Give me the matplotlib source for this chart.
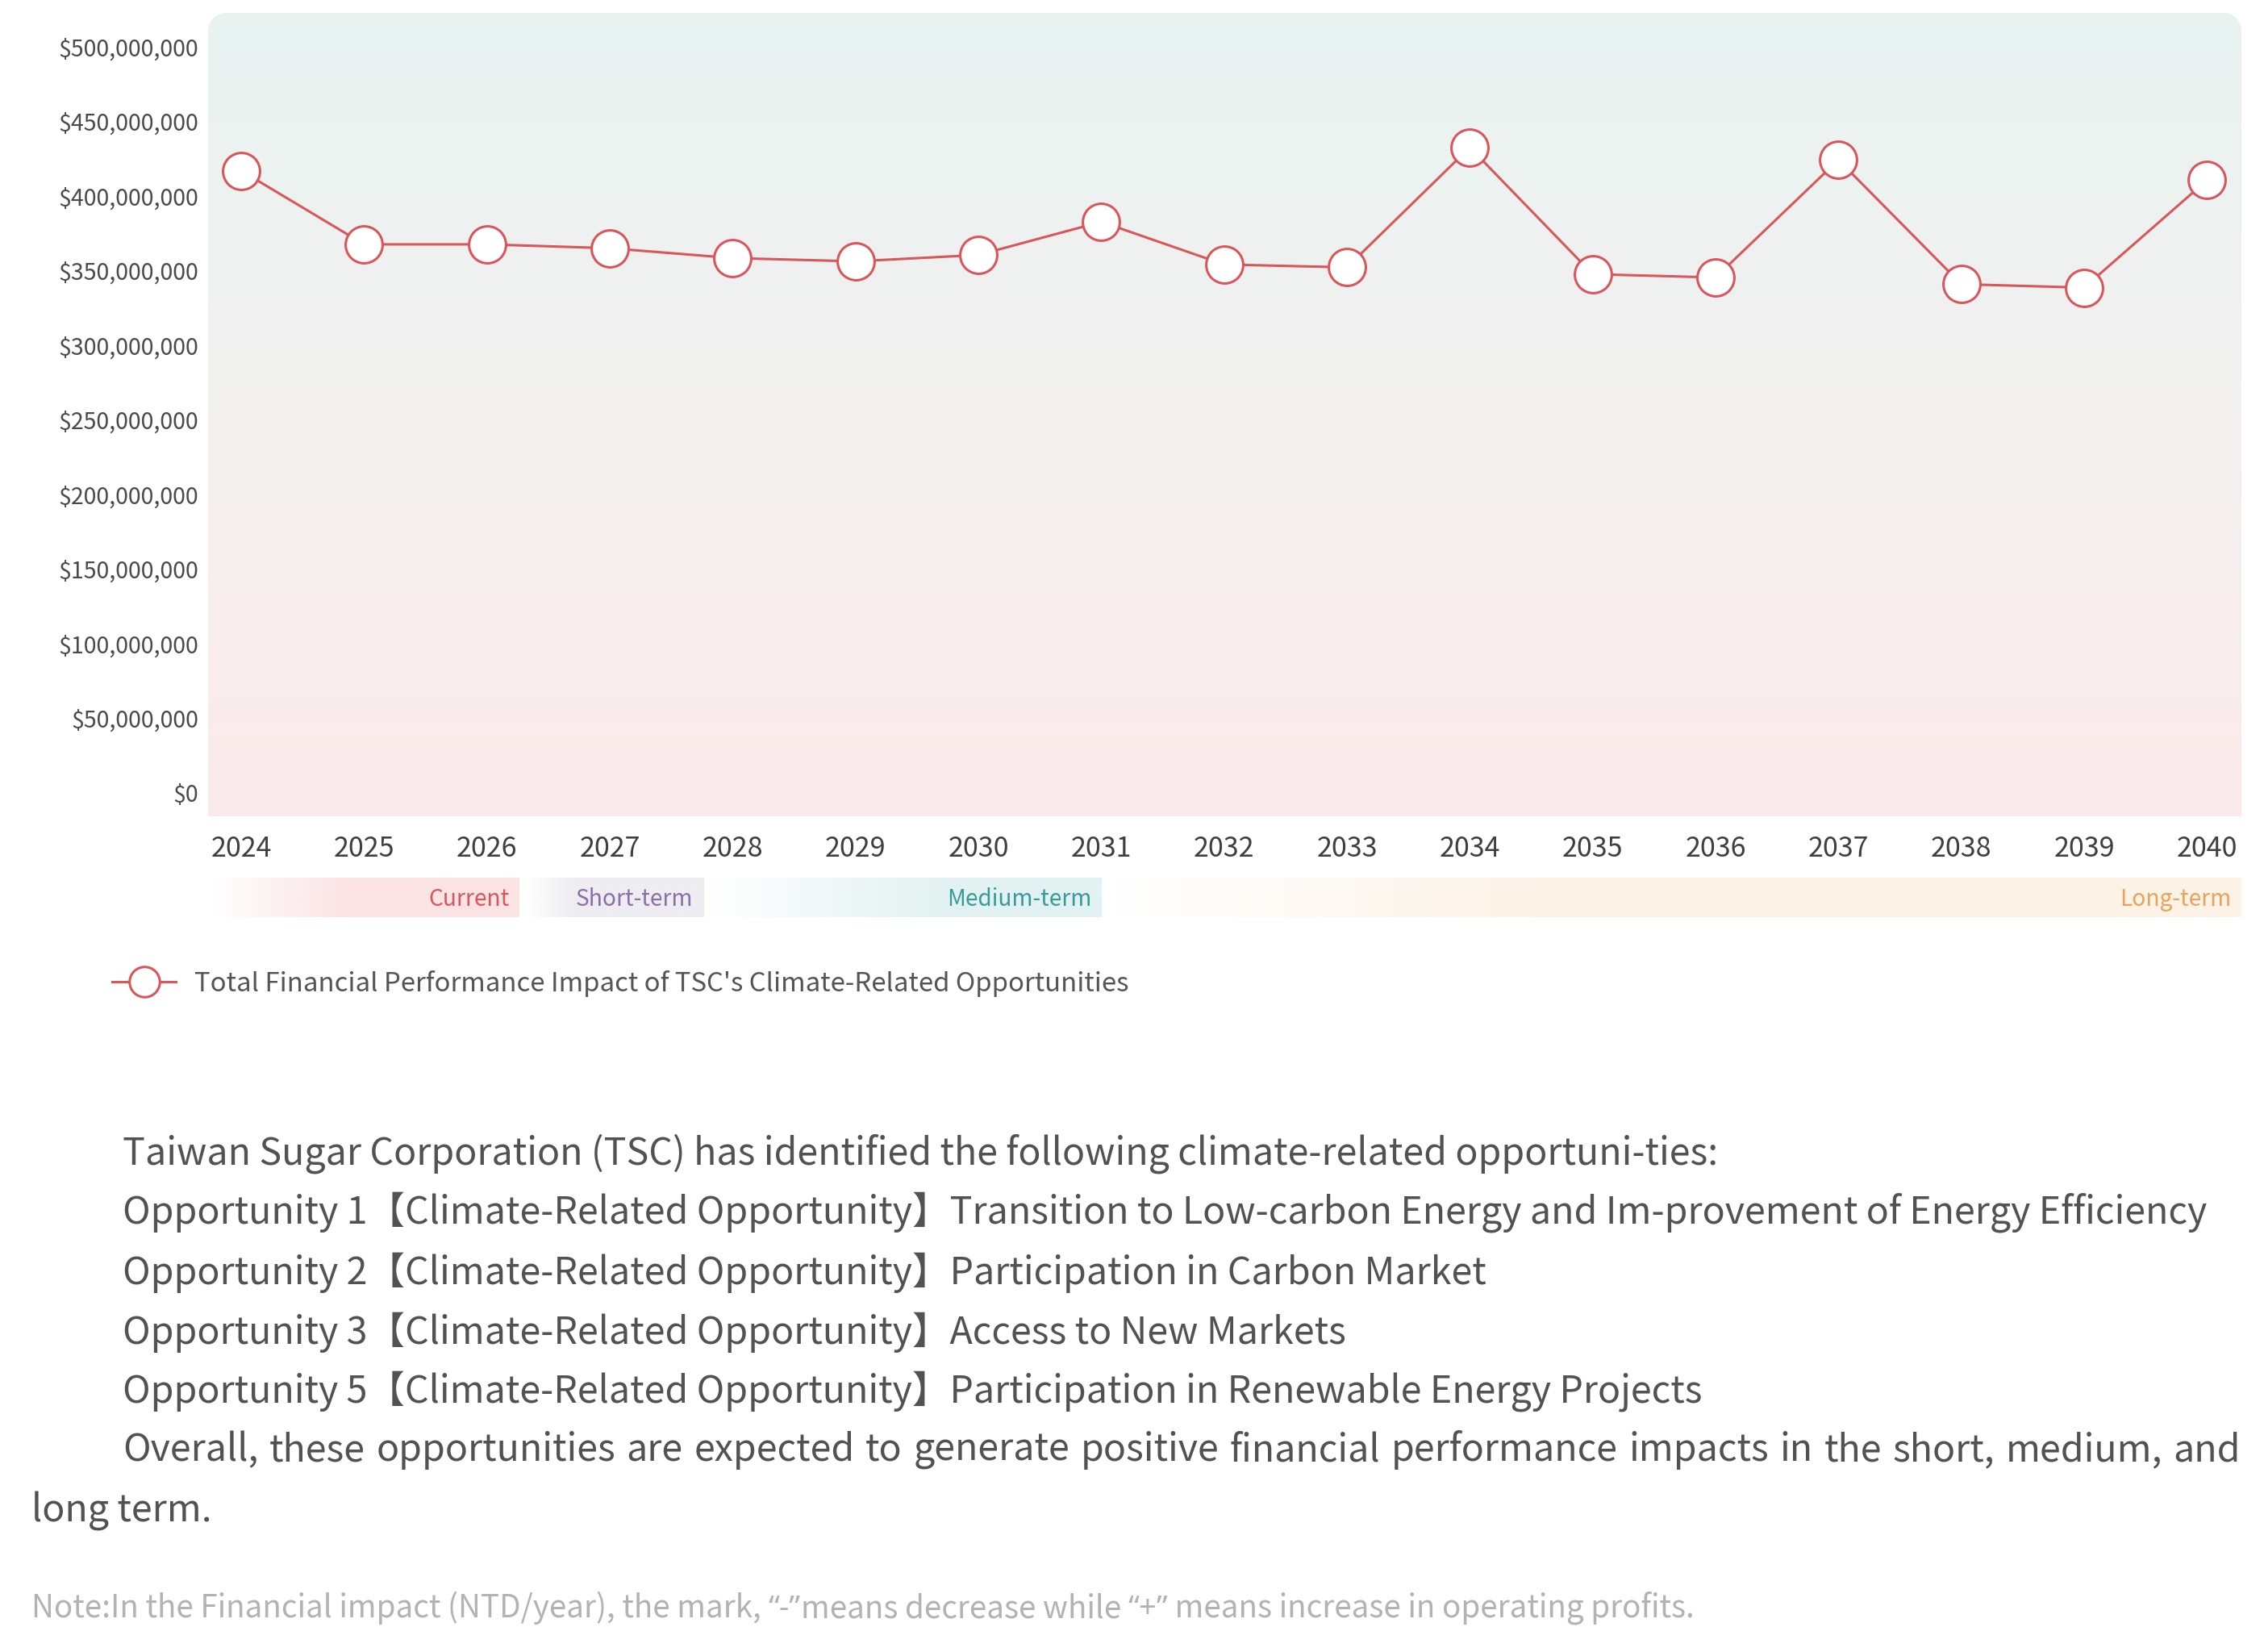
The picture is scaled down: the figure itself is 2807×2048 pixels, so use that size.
import matplotlib.pyplot as plt
import matplotlib.ticker as mticker
import matplotlib.colors as mcolors
from matplotlib import font_manager
from matplotlib.path import Path
from matplotlib.patches import PathPatch
from matplotlib.lines import Line2D
import numpy as np

plt.rcParams['font.family'] = ['Noto Sans CJK TC', 'DejaVu Sans']

# lighter weight for the paragraph if such a face is installed
light_weight = 'normal'
for f in font_manager.fontManager.ttflist:
    if f.name.startswith('Noto Sans CJK') and isinstance(f.weight, int) and f.weight < 400:
        light_weight = f.weight
        break

years = list(range(2024, 2041))
impact = [416.9e6, 367.6e6, 367.6e6, 365.0e6, 358.4e6, 356.2e6, 360.5e6, 382.7e6,
          354.1e6, 352.2e6, 432.6e6, 347.6e6, 345.4e6, 424.2e6, 340.9e6, 338.6e6, 410.6e6]

phase_names = ['Current', 'Short-term', 'Medium-term', 'Long-term']
phase_start = [2023.74, 2026.32, 2027.82, 2031.07]
phase_end = [2026.26, 2027.76, 2031.0, 2040.28]
phase_fill = ['#FCE3E4', '#EEEDF1', '#E2F1F1', '#FDF2E6']
phase_text = ['#D9575C', '#8A70A8', '#3A9A97', '#E9A45C']
phase_ramp = [0.45, 0.25, 0.6, 0.4]

legend_label = "Total Financial Performance Impact of TSC's Climate-Related Opportunities"
body_lines = [
    "Taiwan Sugar Corporation (TSC) has identified the following climate-related opportuni-ties:",
    "Opportunity 1【Climate-Related Opportunity】Transition to Low-carbon Energy and Im-provement of Energy Efficiency",
    "Opportunity 2【Climate-Related Opportunity】Participation in Carbon Market",
    "Opportunity 3【Climate-Related Opportunity】Access to New Markets",
    "Opportunity 5【Climate-Related Opportunity】Participation in Renewable Energy Projects",
]
justified_line = "Overall, these opportunities are expected to generate positive financial performance impacts in the short, medium, and"
last_line = "long term."
note_parts = ["Note:In the Financial impact (NTD/year), the mark, ", "“-”",
              "means decrease while ", "“+”", " means increase in operating profits."]

W, H = 2807, 2048
fig = plt.figure(figsize=(W / 100, H / 100), dpi=100)
fig.patch.set_facecolor('white')

# main plot area (pixel box converted to figure fractions)
left, right, top, bottom = 258, 2779, 16, 1012
ax = fig.add_axes([left / W, 1 - bottom / H, (right - left) / W, (bottom - top) / H])
ax.patch.set_visible(False)
for s in ax.spines.values():
    s.set_visible(False)

# vertical gradient background, rounded top corners
cmap = mcolors.LinearSegmentedColormap.from_list(
    'bg', [(0, '#FCEAEB'), (0.5, '#F3F1F0'), (1.0, '#E8F3F0')])
grad = np.linspace(0, 1, 256).reshape(-1, 1)
im = ax.imshow(grad, cmap=cmap, origin='lower', extent=(0, 1, 0, 1),
               transform=ax.transAxes, aspect='auto', zorder=0)
rx, ry = 22 / (right - left), 22 / (bottom - top)
t = np.linspace(0, np.pi / 2, 20)
pts = [(0, 0), (1, 0)]
pts += [(1 - rx + rx * np.cos(a), 1 - ry + ry * np.sin(a)) for a in t]
pts += [(rx - rx * np.cos(a), 1 - ry + ry * np.sin(a)) for a in t[::-1]]
pts.append((0, 0))
clip = PathPatch(Path(pts), transform=ax.transAxes, facecolor='none', edgecolor='none')
ax.add_patch(clip)
im.set_clip_path(clip)

red = '#D9575C'
ax.plot(years, impact, color=red, lw=2.2, marker='o', ms=33, mfc='white',
        mec=red, mew=2.2, zorder=3, clip_on=False)

ax.set_xlim(2023.73, 2040.28)
ax.set_ylim(-15.7e6, 522.7e6)
ax.set_xticks(years)
ax.set_yticks(np.arange(0, 500e6 + 1, 50e6))
ax.yaxis.set_major_formatter(mticker.FuncFormatter(lambda v, p: f"${v:,.0f}"))
ax.tick_params(axis='y', length=0, pad=8.5, labelsize=20.6, labelcolor='#4A4A4A')
ax.tick_params(axis='x', length=0, pad=16.5, labelsize=24.5, labelcolor='#3F3F3F')

# time horizon bands
bax = fig.add_axes([left / W, 1 - 1137 / H, (right - left) / W, 49 / H])
bax.axis('off')
for name, x0, x1, fc, tc, f in zip(phase_names, phase_start, phase_end,
                                   phase_fill, phase_text, phase_ramp):
    n = 300
    rgba = np.zeros((1, n, 4))
    rgba[..., :3] = mcolors.to_rgb(fc)
    rgba[0, :, 3] = np.clip(np.linspace(0, 1, n) / f, 0, 1)
    bax.imshow(rgba, extent=(x0, x1, 0, 1), aspect='auto', zorder=0)
    bax.text(x1 - 0.08, 0.45, name, ha='right', va='center', fontsize=20.2, color=tc)
bax.set_xlim(ax.get_xlim())
bax.set_ylim(0, 1)

# legend
handle = Line2D([], [], color=red, lw=2.2, marker='o', ms=27, mfc='white', mec=red, mew=2.2)
fig.legend([handle], [legend_label], loc='center left',
           bbox_to_anchor=(139 / W, 1 - 1219 / H), frameon=False, borderpad=0,
           borderaxespad=0, handlelength=2.4, handletextpad=0.7, fontsize=23.7,
           labelcolor='#555555')

# description text
body_color = '#525252'
ys = [1430, 1503, 1578, 1652, 1725]
for y, line in zip(ys, body_lines):
    fig.text(152 / W, 1 - y / H, line, ha='left', va='center', fontsize=33.5,
             color=body_color, fontweight=light_weight)
fig.text(39 / W, 1 - 1874 / H, last_line, ha='left', va='center', fontsize=33.5,
         color=body_color, fontweight=light_weight)

# justified paragraph line, words spread from x=152 to x=2778
words = justified_line.split(' ')
word_texts = [fig.text(0, 1 - 1798 / H, w, ha='left', va='center', fontsize=33.5,
                       color=body_color, fontweight=light_weight) for w in words]

# note: the quote marks come from a Latin font so they stay narrow
note_y = 1 - 2005 / H
note_texts = []
for i, part in enumerate(note_parts):
    fam = ['Noto Sans', 'DejaVu Sans'] if i % 2 == 1 else ['Noto Sans CJK TC', 'DejaVu Sans']
    note_texts.append(fig.text(0, note_y, part, ha='left', va='baseline', fontsize=27.8,
                               color='#B3B3B3', family=fam, fontweight=light_weight))

fig.canvas.draw()
r = fig.canvas.get_renderer()
widths = [tx.get_window_extent(r).width for tx in word_texts]
gap = (2778 - 152 - sum(widths)) / (len(words) - 1)
x = 152
for tx, w in zip(word_texts, widths):
    tx.set_x(x / W)
    x += w + gap

x = 39
for tx in note_texts:
    tx.set_x(x / W)
    x += tx.get_window_extent(r).width

plt.savefig('out.png', dpi=100)
